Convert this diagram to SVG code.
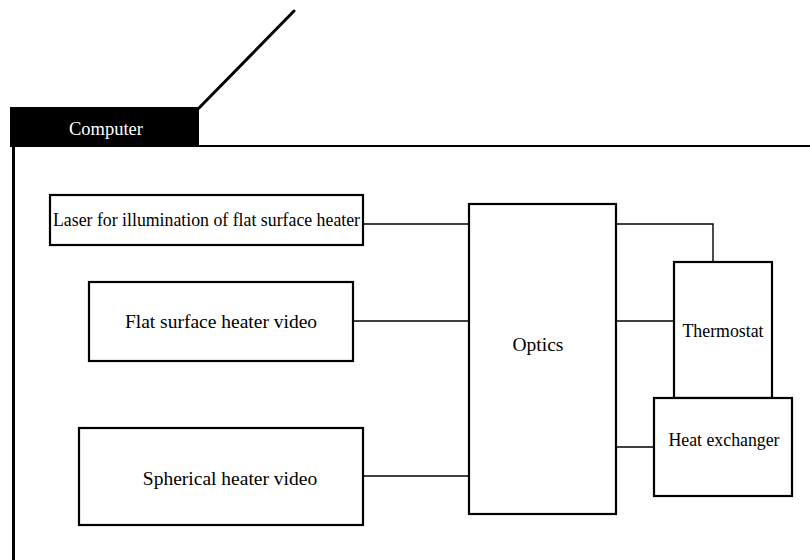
<svg xmlns="http://www.w3.org/2000/svg" width="810" height="560" viewBox="0 0 810 560">
  <style>
    .box { fill: #fff; stroke: #000; stroke-width: 2.2; }
    .wire { fill: none; stroke: #000; stroke-width: 1.4; }
    .frame { fill: none; stroke: #000; stroke-linecap: square; }
    .lbl { font-family: "Times New Roman", "Liberation Serif", serif; fill: #000; text-anchor: middle; }
    .tab { fill: #fff; }
  </style>
  <rect width="810" height="560" fill="#fff"/>

  <!-- computer housing with tab and antenna -->
  <g id="computer">
    <rect x="10" y="107" width="189" height="40" fill="#000"/>
    <text class="lbl tab" x="106" y="135" font-size="18.5">Computer</text>
    <line class="frame" x1="13.5" y1="147" x2="13.5" y2="560" stroke-width="3"/>
    <line class="frame" x1="199" y1="146" x2="810" y2="146" stroke-width="2.2"/>
    <line x1="199" y1="108" x2="294" y2="11" stroke="#000" stroke-width="3" stroke-linecap="round"/>
  </g>

  <!-- connectors -->
  <g id="connectors">
    <path class="wire" d="M363 224 H469"/>
    <path class="wire" d="M353 321 H469"/>
    <path class="wire" d="M363 476 H469"/>
    <path class="wire" d="M616 224 H713 V262"/>
    <path class="wire" d="M616 321 H674"/>
    <path class="wire" d="M616 447 H654"/>
  </g>

  <g id="laser">
    <rect class="box" x="50" y="195" width="313" height="50"/>
    <text class="lbl" x="206.5" y="226" font-size="17.8">Laser for illumination of flat surface heater</text>
  </g>

  <g id="flat-video">
    <rect class="box" x="89" y="282" width="264" height="79"/>
    <text class="lbl" x="221" y="328" font-size="19.5">Flat surface heater video</text>
  </g>

  <g id="spherical-video">
    <rect class="box" x="79" y="428" width="284" height="97"/>
    <text class="lbl" x="230" y="485" font-size="19.5">Spherical heater video</text>
  </g>

  <g id="optics">
    <rect class="box" x="469" y="204" width="147" height="310"/>
    <text class="lbl" x="538" y="351" font-size="19.5">Optics</text>
  </g>

  <g id="thermostat">
    <rect class="box" x="674" y="262" width="98" height="136"/>
    <text class="lbl" x="723" y="337" font-size="17.8">Thermostat</text>
  </g>

  <g id="heat-exchanger">
    <rect class="box" x="654" y="398" width="138" height="98"/>
    <text class="lbl" x="724" y="446" font-size="17.8">Heat exchanger</text>
  </g>
</svg>
